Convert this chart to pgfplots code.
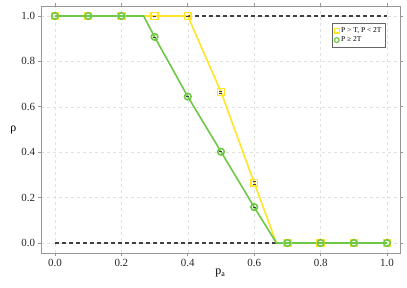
\documentclass[border=0pt]{standalone}
\usepackage{pgfplots}
\pgfplotsset{compat=1.18}
\usepackage{fontspec}
\setmainfont{Liberation Serif}
\definecolor{cyel}{RGB}{255,228,40}
\definecolor{cgrn}{RGB}{110,200,70}
\definecolor{frame}{RGB}{150,150,150}
\begin{document}
\begin{tikzpicture}
\useasboundingbox (-41bp,-35bp) rectangle (366bp,253bp);
\begin{axis}[
  scale only axis, width=359bp, height=247bp,
  xmin=-0.042, xmax=1.039, ymin=-0.044, ymax=1.044,
  xtick={0,0.2,0.4,0.6,0.8,1.0}, ytick={0,0.2,0.4,0.6,0.8,1.0},
  xticklabel style={/pgf/number format/.cd,fixed,fixed zerofill,precision=1},
  yticklabel style={/pgf/number format/.cd,fixed,fixed zerofill,precision=1},
  /pgf/number format/assume math mode=true,
  ticklabel style={font=\fontsize{11}{12}\selectfont, text=black!85},
  tick align=outside, major tick length=2.5bp,
  tick style={frame, line width=0.6pt},
  axis line style={frame, line width=0.8pt},
  grid=major, major grid style={dashed, black!12, line width=0.5pt},
  xlabel={p\textsubscript{a}}, ylabel={ρ},
  xlabel style={font=\fontsize{12}{13}\selectfont, yshift=4bp},
  ylabel style={font=\fontsize{12}{13}\selectfont, rotate=-90, xshift=2bp},
  legend style={at={(0.96,0.93)}, anchor=north east, draw=black!60, line width=0.4pt,
    font=\fontsize{7.5}{8.5}\selectfont, inner sep=2pt, row sep=-1pt},
  legend cell align=left,
]
\addplot[black!75, line width=1.2pt, dash pattern=on 4bp off 3bp, forget plot] coordinates {(0,1) (1,1)};
\addplot[black!75, line width=1.2pt, dash pattern=on 4bp off 3bp, forget plot] coordinates {(0,0) (1,0)};
% yellow line
\addplot[cyel, line width=1.6pt, forget plot] coordinates {
 (0,1) (0.1,1) (0.2,1) (0.3,1) (0.4,1) (0.5,0.665) (0.6,0.265) (0.667,0) (0.7,0) (0.8,0) (0.9,0) (1.0,0)};
\addplot[only marks, mark=square, mark size=3.4bp, cyel, line width=1.6pt, forget plot]
 coordinates {
 (0,1) (0.1,1) (0.2,1) (0.3,1) (0.4,1) (0.5,0.665) (0.6,0.265) (0.7,0) (0.8,0) (0.9,0) (1.0,0)};
% green line
\addplot[cgrn, line width=1.6pt, forget plot] coordinates {
 (0,1) (0.1,1) (0.2,1) (0.267,1) (0.3,0.908) (0.4,0.645) (0.5,0.402) (0.6,0.158) (0.667,0) (0.7,0) (0.8,0) (0.9,0) (1.0,0)};
\addplot[only marks, mark=o, mark size=3.3bp, cgrn, line width=1.6pt, forget plot]
 coordinates {
 (0,1) (0.1,1) (0.2,1) (0.3,0.908) (0.4,0.645) (0.5,0.402) (0.6,0.158) (0.7,0) (0.8,0) (0.9,0) (1.0,0)};
% small error-bar caps inside markers
\addplot[only marks, mark=-, mark size=1.5bp, black!75, line width=0.6pt, forget plot]
 coordinates {(0.3,1) (0.4,1) (0.5,0.67) (0.5,0.66) (0.6,0.27) (0.6,0.26) (0.3,0.908) (0.4,0.645) (0.5,0.402) (0.6,0.158)};
\addlegendimage{only marks, mark=square, mark size=2.4bp, cyel, line width=1.2pt}
\addlegendentry{P > T, P < 2T}
\addlegendimage{only marks, mark=o, mark size=2.4bp, cgrn, line width=1.2pt}
\addlegendentry{P ≥ 2T}
\end{axis}
\end{tikzpicture}
\end{document}
